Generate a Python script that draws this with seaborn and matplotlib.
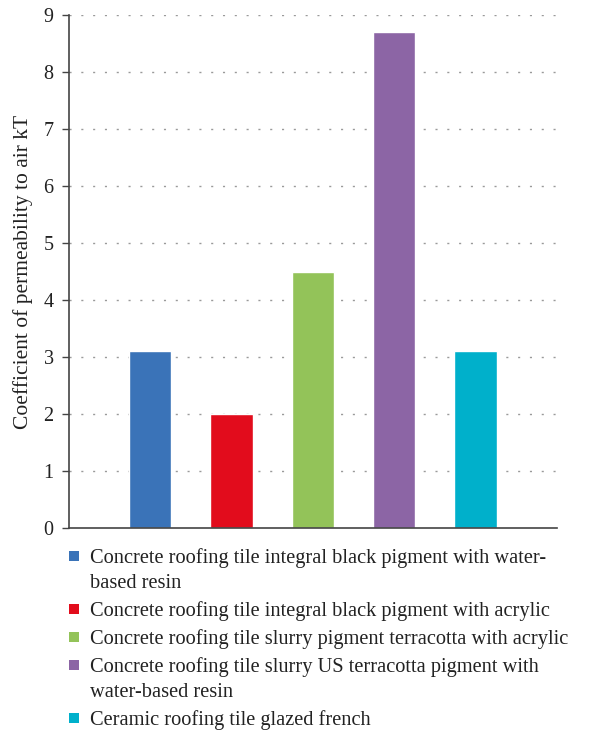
import matplotlib
matplotlib.use("Agg")
import matplotlib.pyplot as plt
from matplotlib.patches import Rectangle
import seaborn as sns
import pandas as pd

# data
materials = [
    "Concrete roofing tile integral black pigment with water-\nbased resin",
    "Concrete roofing tile integral black pigment with acrylic",
    "Concrete roofing tile slurry pigment terracotta with acrylic",
    "Concrete roofing tile slurry US terracotta pigment with\nwater-based resin",
    "Ceramic roofing tile glazed french",
]
kt_values = [3.1, 2.0, 4.5, 8.7, 3.1]
bar_colors = ["#3A73B8", "#E20C1C", "#93C359", "#8C65A5", "#00B0CB"]
y_ticks = list(range(0, 10))

df = pd.DataFrame({"material": materials, "kT": kt_values})

sns.set_style("white")
plt.rcParams["font.family"] = ["Liberation Serif", "DejaVu Serif"]

W, H = 593, 733
fig = plt.figure(figsize=(W / 100, H / 100), dpi=100)
ax = fig.add_axes([0.1164, 0.2797, 0.8226, 0.6998])

for t in y_ticks[1:]:
    ax.axhline(t, color="#9a9a9a", linewidth=1.0, linestyle=(0, (1.5, 7.0)), zorder=0)

sns.barplot(data=df, x="material", y="kT", hue="material", palette=bar_colors,
            width=0.52, legend=False, saturation=1, ax=ax, zorder=2)

ax.set_xlim(-1, 5)
ax.set_ylim(0, 9)
ax.set_yticks(y_ticks)
ax.set_xticks([])
ax.set_xlabel("")
ax.set_ylabel("Coefficient of permeability to air kT", fontsize=15.5,
              color="#222222", labelpad=8)
ax.tick_params(axis="y", labelsize=14.5, length=5, width=1, color="#444444",
               labelcolor="#222222", left=True, direction="out", pad=6)
for side in ["top", "right"]:
    ax.spines[side].set_visible(False)
for side in ["left", "bottom"]:
    ax.spines[side].set_color("#444444")
    ax.spines[side].set_linewidth(1.2)

# legend below the axes, squares aligned with the first line of each label
baseline = 563
line_step, entry_step = 25, 28
for label, color in zip(materials, bar_colors):
    sq = 10
    fig.add_artist(Rectangle((69 / W, 1 - (baseline - 2) / H), sq / W, sq / H,
                             transform=fig.transFigure, facecolor=color,
                             edgecolor="none"))
    for i, line in enumerate(label.split("\n")):
        if i:
            baseline += line_step
        fig.text(90 / W, 1 - baseline / H, line, fontsize=14.7, color="#222222",
                 va="baseline", ha="left")
    baseline += entry_step

fig.savefig("out.png", dpi=100)
